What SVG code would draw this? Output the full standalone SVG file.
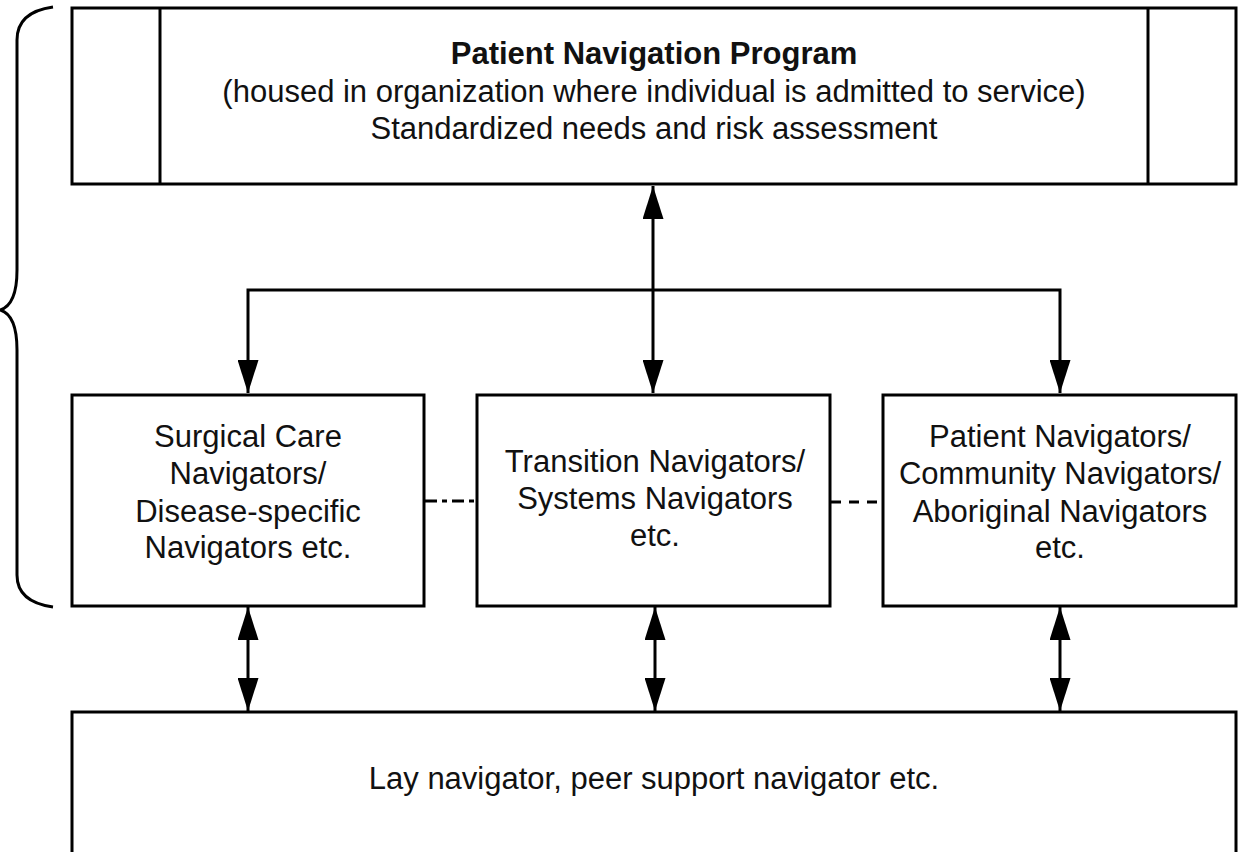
<svg xmlns="http://www.w3.org/2000/svg" width="1241" height="852" viewBox="0 0 1241 852">
<style>
.box{fill:#fff;stroke:#000;stroke-width:3}
.ln{fill:none;stroke:#000;stroke-width:3}
text{font-family:"Liberation Sans",Arial,sans-serif;font-size:31px;fill:#111;text-anchor:middle}
.b{font-weight:bold}
</style>
<defs>
<marker id="ah" viewBox="0 0 33 21" refX="33" refY="10.5" markerWidth="33" markerHeight="21" markerUnits="userSpaceOnUse" orient="auto-start-reverse">
<path d="M0,0 L33,10.5 L0,21 Z" fill="#000"/>
</marker>
</defs>
<rect width="1241" height="852" fill="#fff"/>
<path id="brace" class="ln" d="M53,7 Q17,12 17,40 L17,270 Q17,305 0,310 Q17,315 17,350 L17,575 Q17,602 53,607"/>
<g id="top">
<rect class="box" x="72" y="8" width="1164" height="176"/>
<line class="ln" x1="160" y1="8" x2="160" y2="184"/>
<line class="ln" x1="1148" y1="8" x2="1148" y2="184"/>
<text class="b" x="654" y="64">Patient Navigation Program</text>
<text x="654" y="102">(housed in organization where individual is admitted to service)</text>
<text x="654" y="139">Standardized needs and risk assessment</text>
</g>
<g id="left">
<rect class="box" x="72" y="395" width="352" height="211"/>
<text x="248" y="447">Surgical Care</text>
<text x="248" y="484">Navigators/</text>
<text x="248" y="522">Disease-specific</text>
<text x="248" y="558">Navigators etc.</text>
</g>
<g id="middle">
<rect class="box" x="477" y="395" width="353" height="211"/>
<text x="655" y="472">Transition Navigators/</text>
<text x="655" y="509">Systems Navigators</text>
<text x="655" y="546">etc.</text>
</g>
<g id="right">
<rect class="box" x="883" y="395" width="353" height="211"/>
<text x="1060" y="447">Patient Navigators/</text>
<text x="1060" y="484">Community Navigators/</text>
<text x="1060" y="522">Aboriginal Navigators</text>
<text x="1060" y="558">etc.</text>
</g>
<g id="bottom">
<rect class="box" x="72" y="712" width="1164" height="160"/>
<text x="654" y="789">Lay navigator, peer support navigator etc.</text>
</g>
<g id="connectors">
<line class="ln" x1="653" y1="290" x2="653" y2="186" marker-end="url(#ah)"/>
<line class="ln" x1="653" y1="290" x2="653" y2="393" marker-end="url(#ah)"/>
<polyline class="ln" points="248,393 248,290 1060,290 1060,393" marker-start="url(#ah)" marker-end="url(#ah)"/>
<line class="ln" x1="248" y1="607" x2="248" y2="711" marker-start="url(#ah)" marker-end="url(#ah)"/>
<line class="ln" x1="655" y1="607" x2="655" y2="711" marker-start="url(#ah)" marker-end="url(#ah)"/>
<line class="ln" x1="1060" y1="607" x2="1060" y2="711" marker-start="url(#ah)" marker-end="url(#ah)"/>
<line class="ln" x1="425" y1="501" x2="476" y2="501" stroke-dasharray="12,5,5,5"/>
<line class="ln" x1="831" y1="502" x2="882" y2="502" stroke-dasharray="10,8"/>
</g>
</svg>
